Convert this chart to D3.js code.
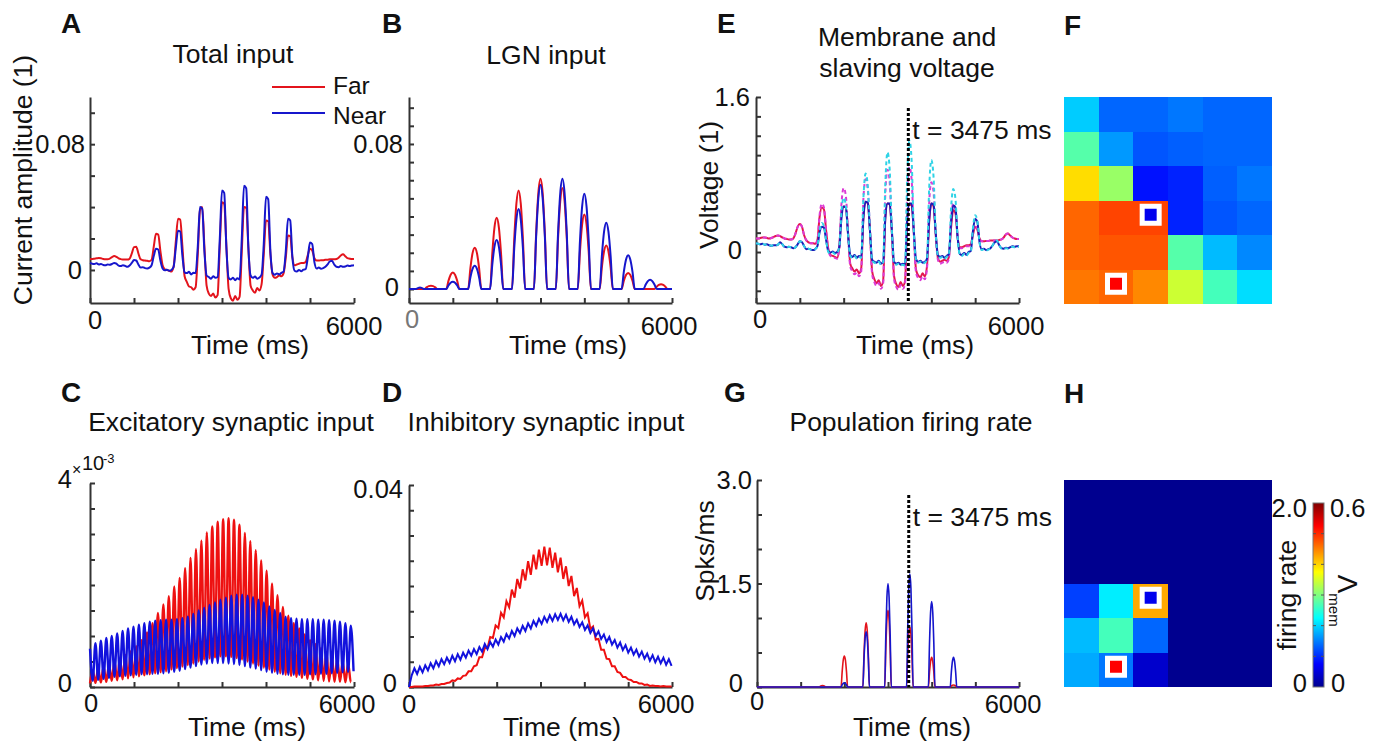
<!DOCTYPE html>
<html>
<head>
<meta charset="utf-8">
<script src="https://cdn.jsdelivr.net/npm/d3@7"></script>
<style>
  body { margin: 0; background: #fff; }
  svg { display: block; font-family: "Liberation Sans", Arial, sans-serif; }
</style>
</head>
<body>
<div id="figure"></div>
<script>
// ---------------- data ----------------
const timeTicks = [0, 1000, 2000, 3000, 4000, 5000, 6000];
// A, B, E are sampled every 50 ms; C, D every half cycle of the ~8 Hz ripple (61.75 ms)
const gridTime = d3.range(0, 6001, 50);
const halfCycleTime = d3.range(0, 98).map(j => j * 61.75);

// A: total input (units of 1e-3)
const totalFar = [
  7.0, 7.0, 7.2, 7.4, 7.6, 7.4, 7.0, 6.8, 6.8, 7.2,
  8.2, 8.9, 8.4, 7.4, 6.9, 6.7, 6.6, 6.6, 7.2, 10.5,
  14.5, 14.8, 10.5, 6.8, 6.2, 6.0, 5.8, 5.6, 6.5, 15.0,
  23.0, 22.5, 12.0, 3.0, 0.5, 0.0, -0.5, -1.0, 2.0, 18.0,
  32.5, 32.0, 15.0, -4.0, -7.5, -10.5, -11.0, -12.5, -11.0, 10.0,
  38.0, 40.0, 15.0, -10.0, -15.0, -16.5, -15.0, -17.5, -16.0, 15.0,
  43.0, 42.0, 15.0, -12.0, -18.0, -19.5, -16.5, -19.0, -17.0, 12.0,
  40.0, 39.5, 14.0, -10.0, -13.0, -14.5, -11.5, -13.0, -9.0, 10.0,
  31.5, 31.0, 10.0, -3.0, -5.0, -4.5, -3.5, -4.0, -2.0, 8.0,
  22.0, 21.5, 8.0, 3.0, 3.5, 4.0, 4.5, 4.5, 5.0, 9.5,
  13.5, 12.5, 7.5, 6.0, 6.0, 6.2, 6.2, 6.5, 6.5, 6.8,
  6.8, 6.8, 7.0, 7.8, 9.2, 10.0, 8.8, 7.5, 7.2, 7.0,
  7.0];
const totalNear = [
  4.5, 4.0, 3.8, 4.2, 3.5, 3.8, 3.2, 3.0, 3.5, 3.3,
  3.8, 4.5, 4.0, 2.8, 2.5, 3.0, 2.6, 2.0, 2.8, 4.5,
  6.3, 6.0, 3.5, 1.5, 1.8, 1.2, 1.0, 1.5, 3.0, 9.0,
  13.5, 13.0, 6.0, 1.0, -0.2, 0.2, -0.5, 0.0, 2.0, 14.0,
  25.0, 24.5, 9.0, -1.5, -2.0, -1.2, -2.8, -1.8, -2.0, 15.0,
  40.0, 39.0, 12.0, -3.5, -4.5, -5.5, -4.0, -5.0, -4.5, 20.0,
  50.5, 49.0, 14.0, -5.0, -6.0, -5.0, -6.5, -5.2, -6.0, 20.0,
  53.5, 52.0, 14.0, -3.5, -5.0, -4.2, -5.5, -4.8, -3.0, 17.0,
  46.5, 45.0, 12.0, -2.0, -3.0, -2.2, -2.8, -1.8, -1.0, 12.0,
  32.5, 31.5, 8.0, -0.5, -1.0, 0.0, -0.8, 0.2, 0.5, 8.0,
  17.5, 16.5, 5.0, 1.0, 1.5, 0.8, 1.2, 2.0, 3.5, 5.5,
  5.8, 3.5, 2.0, 1.8, 2.5, 2.0, 2.2, 2.8, 2.5, 2.8,
  3.0];

// B: LGN input (units of 1e-3)
const lgnFar = [
  0, 0, 0, 0, 0, 0, 0, 0, 0.9, 1.6,
  1.8, 1.6, 0.9, 0, 0, 0, 0, 0, 4.5, 7.9,
  9.1, 7.9, 4.5, 0, 0, 0, 0, 0, 11.4, 19.8,
  22.8, 19.8, 11.4, 0, 0, 0, 0, 0, 19.6, 34.0,
  39.3, 34.0, 19.6, 0, 0, 0, 0, 0, 27.2, 47.1,
  54.4, 47.1, 27.2, 0, 0, 0, 0, 0, 30.4, 52.7,
  60.8, 52.7, 30.4, 0, 0, 0, 0, 0, 27.8, 48.2,
  55.7, 48.2, 27.8, 0, 0, 0, 0, 0, 20.5, 35.6,
  41.1, 35.6, 20.5, 0, 0, 0, 0, 0, 12.0, 20.8,
  24.0, 20.8, 12.0, 0, 0, 0, 0, 0, 4.4, 7.7,
  8.9, 7.7, 4.4, 0, 0, 0, 0, 0, 0, 0,
  0, 0, 0, 1.3, 2.3, 2.7, 2.3, 1.3, 0, 0,
  0];
const lgnNear = [
  0, 0, 0, 0, 0.5, 0.9, 0.5, 0, 0, 0,
  0, 0, 0, 0, 0, 0, 0, 0, 2.0, 3.5,
  4.0, 3.5, 2.0, 0, 0, 0, 0, 0, 6.4, 11.1,
  12.8, 11.1, 6.4, 0, 0, 0, 0, 0, 13.5, 23.4,
  27.0, 23.4, 13.5, 0, 0, 0, 0, 0, 22.1, 38.3,
  44.2, 38.3, 22.1, 0, 0, 0, 0, 0, 28.7, 49.8,
  57.5, 49.8, 28.7, 0, 0, 0, 0, 0, 30.4, 52.7,
  60.8, 52.7, 30.4, 0, 0, 0, 0, 0, 26.3, 45.6,
  52.6, 45.6, 26.3, 0, 0, 0, 0, 0, 18.2, 31.6,
  36.5, 31.6, 18.2, 0, 0, 0, 0, 0, 9.3, 16.1,
  18.6, 16.1, 9.3, 0, 0, 0, 0, 0, 2.5, 4.4,
  5.1, 4.4, 2.5, 0, 0, 0, 0, 0, 0, 0,
  0];

// E: membrane (solid) and slaving (dashed) voltage
const vmemFar = [
  0.14, 0.14, 0.145, 0.15, 0.15, 0.145, 0.14, 0.145, 0.155, 0.165,
  0.17, 0.165, 0.15, 0.14, 0.135, 0.13, 0.13, 0.14, 0.19, 0.26,
  0.29, 0.26, 0.17, 0.12, 0.10, 0.09, 0.09, 0.085, 0.12, 0.36,
  0.46, 0.44, 0.22, 0.03, -0.03, -0.04, -0.05, -0.06, 0.05, 0.40,
  0.47, 0.46, 0.20, -0.12, -0.17, -0.20, -0.18, -0.22, -0.17, 0.35,
  0.52, 0.50, 0.22, -0.20, -0.28, -0.32, -0.29, -0.35, -0.30, 0.35,
  0.50, 0.49, 0.20, -0.25, -0.33, -0.36, -0.31, -0.35, -0.30, 0.30,
  0.49, 0.48, 0.20, -0.18, -0.24, -0.26, -0.22, -0.25, -0.15, 0.30,
  0.50, 0.47, 0.18, -0.06, -0.10, -0.09, -0.08, -0.09, -0.05, 0.25,
  0.43, 0.40, 0.15, 0.05, 0.05, 0.06, 0.07, 0.07, 0.08, 0.18,
  0.26, 0.23, 0.14, 0.11, 0.11, 0.115, 0.115, 0.12, 0.12, 0.12,
  0.12, 0.125, 0.13, 0.15, 0.18, 0.19, 0.17, 0.15, 0.14, 0.135,
  0.135];
const vmemNear = [
  0.09, 0.085, 0.08, 0.085, 0.075, 0.08, 0.07, 0.065, 0.07, 0.07,
  0.075, 0.10, 0.08, 0.055, 0.05, 0.055, 0.05, 0.04, 0.05, 0.08,
  0.11, 0.10, 0.06, 0.03, 0.035, 0.025, 0.02, 0.03, 0.06, 0.20,
  0.26, 0.25, 0.12, 0.01, -0.005, 0.005, -0.01, 0.0, 0.05, 0.35,
  0.47, 0.46, 0.18, -0.03, -0.05, -0.03, -0.06, -0.04, -0.05, 0.35,
  0.52, 0.51, 0.22, -0.08, -0.10, -0.11, -0.09, -0.12, -0.10, 0.35,
  0.50, 0.50, 0.22, -0.10, -0.12, -0.11, -0.13, -0.12, -0.13, 0.35,
  0.50, 0.50, 0.22, -0.07, -0.10, -0.09, -0.11, -0.10, -0.07, 0.33,
  0.50, 0.49, 0.20, -0.03, -0.05, -0.04, -0.06, -0.04, -0.02, 0.30,
  0.48, 0.46, 0.15, -0.02, -0.03, -0.01, -0.03, 0.0, 0.01, 0.22,
  0.34, 0.31, 0.10, 0.03, 0.035, 0.02, 0.03, 0.04, 0.07, 0.10,
  0.11, 0.07, 0.04, 0.035, 0.045, 0.04, 0.05, 0.06, 0.055, 0.06,
  0.06];
const vslaveFar = [
  0.14, 0.14, 0.145, 0.15, 0.15, 0.145, 0.14, 0.145, 0.155, 0.165,
  0.17, 0.165, 0.15, 0.14, 0.135, 0.13, 0.13, 0.14, 0.19, 0.26,
  0.29, 0.26, 0.17, 0.12, 0.10, 0.09, 0.09, 0.085, 0.12, 0.38,
  0.50, 0.46, 0.22, 0.02, -0.04, -0.05, -0.06, -0.07, 0.05, 0.50,
  0.66, 0.58, 0.20, -0.15, -0.20, -0.23, -0.21, -0.25, -0.20, 0.55,
  0.75, 0.65, 0.22, -0.23, -0.31, -0.35, -0.32, -0.38, -0.33, 0.60,
  0.85, 0.72, 0.20, -0.28, -0.36, -0.39, -0.34, -0.38, -0.33, 0.60,
  0.88, 0.75, 0.20, -0.21, -0.27, -0.29, -0.25, -0.28, -0.18, 0.50,
  0.72, 0.62, 0.18, -0.08, -0.12, -0.11, -0.10, -0.11, -0.07, 0.35,
  0.50, 0.44, 0.15, 0.04, 0.04, 0.05, 0.06, 0.06, 0.07, 0.20,
  0.28, 0.24, 0.14, 0.11, 0.11, 0.115, 0.115, 0.12, 0.12, 0.12,
  0.12, 0.125, 0.13, 0.15, 0.18, 0.19, 0.17, 0.15, 0.14, 0.135,
  0.135];
const vslaveNear = [
  0.09, 0.085, 0.08, 0.085, 0.075, 0.08, 0.07, 0.065, 0.07, 0.07,
  0.075, 0.10, 0.08, 0.055, 0.05, 0.055, 0.05, 0.04, 0.05, 0.08,
  0.11, 0.10, 0.06, 0.03, 0.035, 0.025, 0.02, 0.03, 0.06, 0.22,
  0.30, 0.27, 0.12, 0.0, -0.015, -0.005, -0.02, -0.01, 0.05, 0.42,
  0.56, 0.48, 0.18, -0.04, -0.06, -0.04, -0.07, -0.05, -0.06, 0.55,
  0.81, 0.68, 0.22, -0.09, -0.11, -0.12, -0.10, -0.13, -0.11, 0.70,
  1.03, 0.85, 0.22, -0.11, -0.13, -0.12, -0.14, -0.13, -0.14, 0.78,
  1.15, 0.95, 0.22, -0.08, -0.11, -0.10, -0.12, -0.11, -0.08, 0.65,
  0.95, 0.78, 0.20, -0.04, -0.06, -0.05, -0.07, -0.05, -0.03, 0.45,
  0.65, 0.55, 0.15, -0.03, -0.04, -0.02, -0.04, -0.01, 0.0, 0.25,
  0.38, 0.32, 0.10, 0.02, 0.03, 0.015, 0.025, 0.035, 0.07, 0.11,
  0.12, 0.07, 0.035, 0.03, 0.04, 0.035, 0.045, 0.055, 0.05, 0.055,
  0.055];

// C: excitatory synaptic input (units of 1e-3), ripple peaks and troughs per cycle
const excFarTroughs = [0.07, 0.08, 0.09, 0.10, 0.12, 0.13, 0.15, 0.17, 0.19, 0.21,
  0.23, 0.25, 0.27, 0.29, 0.31, 0.34, 0.37, 0.40, 0.43, 0.46, 0.50, 0.53, 0.56, 0.58, 0.60,
  0.60, 0.59, 0.57, 0.54, 0.50, 0.46, 0.42, 0.38, 0.34, 0.30, 0.27, 0.24, 0.22, 0.20, 0.18,
  0.16, 0.15, 0.13, 0.12, 0.11, 0.10, 0.10, 0.09, 0.09];
const excFarPeaks = [0.33, 0.36, 0.40, 0.45, 0.50, 0.56, 0.63, 0.70, 0.80, 0.92,
  1.07, 1.25, 1.45, 1.62, 1.78, 1.97, 2.14, 2.33, 2.53, 2.70, 2.87, 3.03, 3.15, 3.24, 3.29,
  3.31, 3.28, 3.18, 3.02, 2.86, 2.68, 2.48, 2.28, 2.03, 1.80, 1.57, 1.40, 1.25, 1.15, 1.03,
  0.92, 0.84, 0.76, 0.68, 0.61, 0.55, 0.50, 0.46];
const excNearPeaks = [0.75, 0.86, 0.91, 0.96, 1.00, 1.05, 1.10, 1.15, 1.18, 1.22,
  1.25, 1.28, 1.30, 1.31, 1.32, 1.32, 1.33, 1.35, 1.38, 1.43, 1.50, 1.55, 1.61, 1.66, 1.71,
  1.75, 1.79, 1.81, 1.81, 1.79, 1.76, 1.71, 1.66, 1.58, 1.51, 1.45, 1.38, 1.35, 1.34, 1.33,
  1.33, 1.33, 1.32, 1.32, 1.31, 1.30, 1.28, 1.25, 1.20];
const excNearTroughs = [0.12, 0.14, 0.16, 0.18, 0.20, 0.21, 0.22, 0.23, 0.24, 0.25,
  0.25, 0.26, 0.26, 0.27, 0.28, 0.30, 0.32, 0.35, 0.38, 0.41, 0.44, 0.46, 0.47, 0.47, 0.47,
  0.46, 0.45, 0.43, 0.41, 0.38, 0.36, 0.33, 0.30, 0.28, 0.26, 0.25, 0.24, 0.24, 0.24, 0.24,
  0.25, 0.25, 0.26, 0.26, 0.27, 0.28, 0.29, 0.30, 0.31];

// D: inhibitory synaptic input (units of 1e-3)
const inhFar = [
  0, 0.0, 0.1, 0.1, 0.1, 0.1, 0.2, 0.2, 0.3, 0.3,
  0.5, 0.4, 0.6, 0.6, 0.8, 0.9, 1.3, 1.2, 1.7, 1.6,
  2.2, 2.3, 3.1, 3.1, 4.1, 4.3, 5.9, 5.9, 7.7, 7.7,
  9.9, 9.7, 12.2, 11.7, 14.7, 13.8, 17.0, 15.8, 19.3, 17.7,
  21.4, 19.5, 23.3, 21.1, 24.9, 22.2, 26.2, 23.3, 27.2, 24.0,
  27.8, 24.1, 27.6, 23.6, 26.6, 22.7, 25.6, 21.4, 23.9, 20.0,
  22.0, 18.0, 19.6, 16.0, 17.1, 13.8, 14.6, 11.5, 12.0, 9.4,
  9.5, 7.4, 7.4, 5.6, 5.5, 4.1, 4.1, 3.0, 2.8, 2.0,
  2.0, 1.5, 1.4, 1.0, 1.0, 0.7, 0.7, 0.4, 0.5, 0.2,
  0.3, 0.2, 0.2, 0.1, 0.2, 0.1, 0.1, 0.1];
const inhNear = [
  0, 2.3, 3.7, 2.6, 4.0, 2.9, 4.3, 3.3, 4.7, 3.7,
  5.1, 4.1, 5.5, 4.5, 5.8, 4.8, 6.2, 5.1, 6.5, 5.4,
  6.8, 5.8, 7.2, 6.2, 7.5, 6.5, 7.9, 7.0, 8.5, 7.5,
  8.9, 8.0, 9.4, 8.4, 9.9, 9.0, 10.5, 9.6, 11.1, 10.1,
  11.6, 10.7, 12.1, 11.1, 12.6, 11.6, 13.1, 12.1, 13.5, 12.5,
  13.9, 12.9, 14.2, 13.1, 14.4, 13.3, 14.5, 13.2, 14.3, 12.9,
  13.9, 12.4, 13.3, 11.9, 12.8, 11.3, 12.2, 10.7, 11.6, 10.1,
  11.0, 9.5, 10.4, 8.9, 9.9, 8.4, 9.3, 7.8, 8.8, 7.3,
  8.3, 6.8, 7.8, 6.4, 7.4, 6.0, 7.0, 5.6, 6.6, 5.2,
  6.3, 4.9, 6.0, 4.7, 5.8, 4.4, 5.5, 4.2];

// G: population firing rate (spikes/ms)
const rateTime = [0,
  1425, 1450, 1475, 1500, 1525, 1550, 1575,
  1925, 1950, 1975, 2000, 2025, 2050, 2075,
  2425, 2450, 2475, 2500, 2525, 2550, 2575,
  2925, 2950, 2975, 3000, 3025, 3050, 3075,
  3425, 3450, 3475, 3500, 3525, 3550, 3575,
  3925, 3950, 3975, 4000, 4025, 4050, 4075,
  4425, 4450, 4475, 4500, 4525, 4550, 4575,
  6000];
const rateFar = [0,
  0, 0.01, 0.017, 0.02, 0.017, 0.01, 0,
  0, 0.22, 0.39, 0.45, 0.39, 0.22, 0,
  0, 0.46, 0.81, 0.93, 0.81, 0.46, 0,
  0, 0.55, 0.97, 1.11, 0.97, 0.55, 0,
  0, 0.43, 0.76, 0.87, 0.76, 0.43, 0,
  0, 0.21, 0.37, 0.43, 0.37, 0.21, 0,
  0, 0.015, 0.026, 0.03, 0.026, 0.015, 0,
  0];
const rateNear = [0,
  0, 0, 0, 0, 0, 0, 0,
  0, 0.03, 0.052, 0.06, 0.052, 0.03, 0,
  0, 0.4, 0.7, 0.8, 0.7, 0.4, 0,
  0, 0.75, 1.3, 1.5, 1.3, 0.75, 0,
  0, 0.82, 1.43, 1.64, 1.43, 0.82, 0,
  0, 0.62, 1.08, 1.24, 1.08, 0.62, 0,
  0, 0.21, 0.37, 0.43, 0.37, 0.21, 0,
  0];

const snapshotTime = 3475;

// F: membrane voltage map at t = 3475 ms (rows top to bottom)
const vmemMap = [
  [0.195, 0.135, 0.135, 0.145, 0.135, 0.135],
  [0.275, 0.165, 0.125, 0.131, 0.135, 0.135],
  [0.395, 0.315, 0.085, 0.095, 0.131, 0.145],
  [0.465, 0.485, 0.485, 0.095, 0.125, 0.135],
  [0.465, 0.475, 0.475, 0.275, 0.185, 0.155],
  [0.455, 0.465, 0.445, 0.345, 0.265, 0.205]];
// H: firing-rate map at t = 3475 ms
const rateMap = [
  [0, 0, 0, 0, 0, 0],
  [0, 0, 0, 0, 0, 0],
  [0, 0, 0, 0, 0, 0],
  [0.376, 0.717, 1.417, 0, 0, 0],
  [0.617, 0.883, 0.45, 0, 0, 0],
  [0.583, 0.483, 0.136, 0, 0, 0]];
const vmemMax = 0.6, rateMax = 2.0;
const nearCell = { r: 3, c: 2 }, farCell = { r: 5, c: 1 };

// ---------------- drawing ----------------
const RED = "#e3141c", BLUE = "#1616cc";
const FS = 26.5, TICK = 25.5, LETTER = 28;
const svg = d3.select("#figure").append("svg").attr("width", 1374).attr("height", 742);
svg.append("rect").attr("width", 1374).attr("height", 742).attr("fill", "#fff");

function label(x, y, s, o = {}) {
  const t = svg.append("text").attr("x", x).attr("y", y).text(s)
    .attr("font-size", o.size || FS)
    .attr("text-anchor", o.anchor || "start")
    .attr("fill", o.color || "#111");
  if (o.bold) t.attr("font-weight", "bold");
  if (o.rotate) t.attr("transform", `rotate(${o.rotate},${x},${y})`);
  if (o.mid) t.attr("dominant-baseline", "central");
  return t;
}

function linePanel(p) {
  const x = d3.scaleLinear().domain([0, 6000]).range([p.left, p.right]);
  const y = d3.scaleLinear().domain(p.yDomain).range([p.bottom, p.top]);
  const g = svg.append("g");
  const ax = g.append("g").attr("transform", `translate(0,${p.bottom})`)
    .call(d3.axisBottom(x).tickValues(timeTicks).tickSize(-5).tickSizeOuter(0).tickFormat(""));
  const ay = g.append("g").attr("transform", `translate(${p.left},0)`)
    .call(d3.axisLeft(y).tickValues(p.yTicks).tickSize(-5).tickSizeOuter(0).tickFormat(""));
  [ax, ay].forEach(a => a.selectAll("path, line").attr("stroke", "#333").attr("stroke-width", 2));

  p.series.forEach(s => {
    const line = d3.line()
      .x((d, i) => x(s.time[i]))
      .y(d => y(d))
      .curve(s.curve || d3.curveMonotoneX);
    g.append("path").datum(s.values)
      .attr("d", line)
      .attr("fill", "none")
      .attr("stroke", s.color)
      .attr("stroke-width", s.width || 2)
      .attr("stroke-dasharray", s.dash || null);
  });
  return { x, y };
}

function snapshotLine(sc, yTop) {
  svg.append("line")
    .attr("x1", sc.x(snapshotTime)).attr("x2", sc.x(snapshotTime))
    .attr("y1", yTop).attr("y2", sc.y.range()[0])
    .attr("stroke", "#000").attr("stroke-width", 3).attr("stroke-dasharray", "3,2");
  label(sc.x(snapshotTime) + 4, yTop + 31, "t = 3475 ms");
}

// ---- A: total input ----
const A = linePanel({
  left: 90, right: 354, top: 97, bottom: 303, yDomain: [-21, 110],
  yTicks: [0, 20, 40, 60, 80, 100],
  series: [
    { time: gridTime, values: totalFar, color: RED },
    { time: gridTime, values: totalNear, color: BLUE }]
});
label(61, 33, "A", { bold: true, size: LETTER });
label(233, 63, "Total input", { anchor: "middle" });
label(32, 180, "Current amplitude (1)", { anchor: "middle", rotate: -90 });
label(85, A.y(80), "0.08", { anchor: "end", mid: true, size: TICK });
label(82, A.y(0), "0", { anchor: "end", mid: true, size: TICK });
label(A.x(0) + 5, 329, "0", { anchor: "middle", size: TICK });
label(A.x(6000), 335, "6000", { anchor: "middle", size: TICK });
label(250, 354, "Time (ms)", { anchor: "middle" });
// legend
[["Far", RED, 87, 85], ["Near", BLUE, 113, 115]].forEach(([name, col, ly, ty]) => {
  svg.append("line").attr("x1", 272).attr("x2", 325).attr("y1", ly).attr("y2", ly)
    .attr("stroke", col).attr("stroke-width", 2);
  label(333, ty, name, { mid: true, size: 24.5 });
});

// ---- B: LGN input ----
const B = linePanel({
  left: 409, right: 672, top: 97, bottom: 303, yDomain: [-7.7, 105.9],
  yTicks: d3.range(0, 101, 10),
  series: [
    { time: gridTime, values: lgnFar, color: RED },
    { time: gridTime, values: lgnNear, color: BLUE }]
});
label(382, 33, "B", { bold: true, size: LETTER });
label(546, 64, "LGN input", { anchor: "middle" });
label(403, B.y(80), "0.08", { anchor: "end", mid: true, size: TICK });
label(399, B.y(0) - 2, "0", { anchor: "end", mid: true, size: TICK });
label(B.x(0) + 3, 328, "0", { anchor: "middle", size: TICK, color: "#777" });
label(B.x(6000) - 3, 335, "6000", { anchor: "middle", size: TICK });
label(568, 354, "Time (ms)", { anchor: "middle" });

// ---- E: membrane and slaving voltage ----
const E = linePanel({
  left: 756, right: 1019, top: 97, bottom: 303, yDomain: [-0.526, 1.6],
  yTicks: [-0.4, -0.2, 0, 0.2, 0.4, 0.6, 0.8, 1.0, 1.2, 1.4, 1.6],
  series: [
    { time: gridTime, values: vmemFar, color: "#e3174e" },
    { time: gridTime, values: vslaveFar, color: "#dc3ad6", dash: "4,3" },
    { time: gridTime, values: vmemNear, color: "#1c1cb8" },
    { time: gridTime, values: vslaveNear, color: "#2fd3e6", dash: "4,3" }]
});
label(717, 33, "E", { bold: true, size: LETTER });
label(907, 46, "Membrane and", { anchor: "middle" });
label(907, 77, "slaving voltage", { anchor: "middle" });
label(718, 185, "Voltage (1)", { anchor: "middle", rotate: -90 });
label(750, E.y(1.6), "1.6", { anchor: "end", mid: true, size: TICK });
label(742, E.y(0) - 2, "0", { anchor: "end", mid: true, size: TICK });
label(E.x(0) + 4, 328, "0", { anchor: "middle", size: TICK });
label(E.x(6000) - 3, 335, "6000", { anchor: "middle", size: TICK });
label(915, 354, "Time (ms)", { anchor: "middle" });
snapshotLine(E, 108);

// ---- C: excitatory synaptic input ----
const excFar = halfCycleTime.map((t, j) => j % 2 === 0 ? excFarTroughs[j / 2] : excFarPeaks[(j - 1) / 2]);
const excNear = halfCycleTime.map((t, j) => j % 2 === 0 ? excNearPeaks[j / 2] : excNearTroughs[(j - 1) / 2]);
const C = linePanel({
  left: 90, right: 354, top: 483, bottom: 687, yDomain: [0, 4],
  yTicks: d3.range(0, 4.01, 0.5),
  series: [
    { time: halfCycleTime, values: excFar, color: "#ee1111", width: 2.4 },
    { time: halfCycleTime, values: excNear, color: "#1212dd", width: 2.4 }]
});
label(61, 402, "C", { bold: true, size: LETTER });
label(231, 431, "Excitatory synaptic input", { anchor: "middle" });
label(72, 488, "4", { anchor: "end", size: TICK });
label(72, 475, "\u00d7", { size: 16 });
label(82, 470, "10", { size: 20 });
label(103, 463, "-3", { size: 13 });
label(72, C.y(0) - 4, "0", { anchor: "end", mid: true, size: TICK });
label(C.x(0) + 1, 712, "0", { anchor: "middle", size: TICK });
label(C.x(6000) - 7, 713, "6000", { anchor: "middle", size: TICK });
label(247, 736, "Time (ms)", { anchor: "middle" });

// ---- D: inhibitory synaptic input ----
const D = linePanel({
  left: 409, right: 672, top: 485, bottom: 687, yDomain: [0, 40],
  yTicks: d3.range(0, 41, 5),
  series: [
    { time: halfCycleTime, values: inhFar, color: "#ee1111", curve: d3.curveLinear },
    { time: halfCycleTime, values: inhNear, color: "#1212dd", curve: d3.curveLinear }]
});
label(382, 402, "D", { bold: true, size: LETTER });
label(546, 431, "Inhibitory synaptic input", { anchor: "middle" });
label(403, D.y(40) + 4, "0.04", { anchor: "end", mid: true, size: TICK });
label(397, D.y(0) - 4, "0", { anchor: "end", mid: true, size: TICK });
label(D.x(0), 713, "0", { anchor: "middle", size: TICK });
label(D.x(6000) - 6, 713, "6000", { anchor: "middle", size: TICK });
label(562, 736, "Time (ms)", { anchor: "middle" });

// ---- G: population firing rate ----
const G = linePanel({
  left: 757, right: 1019, top: 480, bottom: 687, yDomain: [0, 3],
  yTicks: [0, 0.5, 1, 1.5, 2, 2.5, 3],
  series: [
    { time: rateTime, values: rateFar, color: "#e3141c", width: 1.6 },
    { time: rateTime, values: rateNear, color: "#1616cc", width: 1.6 }]
});
label(724, 402, "G", { bold: true, size: LETTER });
label(911, 431, "Population firing rate", { anchor: "middle" });
label(714, 551, "Spks/ms", { anchor: "middle", rotate: -90 });
label(752, G.y(3), "3.0", { anchor: "end", mid: true, size: TICK });
label(752, G.y(1.5), "1.5", { anchor: "end", mid: true, size: TICK });
label(743, G.y(0) - 4, "0", { anchor: "end", mid: true, size: TICK });
label(G.x(0), 710, "0", { anchor: "middle", size: TICK });
label(G.x(6000) - 6, 713, "6000", { anchor: "middle", size: TICK });
label(912, 736, "Time (ms)", { anchor: "middle" });
snapshotLine(G, 495);

// ---- F and H: maps at t = 3475 ms ----
const jet = d3.scaleLinear()
  .domain([0, 0.125, 0.375, 0.625, 0.875, 1])
  .range(["#00008f", "#0000ff", "#00ffff", "#ffff00", "#ff0000", "#800000"])
  .clamp(true);

function heatPanel(values, top, maxVal) {
  const x = d3.scaleBand().domain(d3.range(6)).range([1064, 1272]);
  const y = d3.scaleBand().domain(d3.range(6)).range([top, top + 207]);
  const cells = values.flatMap((row, r) => row.map((v, c) => ({ r, c, v })));
  const g = svg.append("g");
  g.selectAll("rect").data(cells).join("rect")
    .attr("x", d => x(d.c)).attr("y", d => y(d.r))
    .attr("width", d => x.bandwidth() + (d.c < 5 ? 1 : 0))
    .attr("height", d => y.bandwidth() + (d.r < 5 ? 1 : 0))
    .attr("shape-rendering", "crispEdges")
    .attr("fill", d => jet(d.v / maxVal));
  [[nearCell, "#0000ee"], [farCell, "#ff0000"]].forEach(([cell, col]) => {
    const cx = x(cell.c) + x.bandwidth() / 2, cy = y(cell.r) + y.bandwidth() / 2 - 3;
    g.append("rect").attr("x", cx - 11).attr("y", cy - 11).attr("width", 22).attr("height", 22).attr("fill", "#fff");
    g.append("rect").attr("x", cx - 6).attr("y", cy - 6).attr("width", 12).attr("height", 12).attr("fill", col);
  });
}
heatPanel(vmemMap, 97, vmemMax);
label(1064, 35, "F", { bold: true, size: LETTER });
heatPanel(rateMap, 480, rateMax);
label(1064, 403, "H", { bold: true, size: LETTER });

// colorbar
const defs = svg.append("defs");
const grad = defs.append("linearGradient").attr("id", "jetGrad")
  .attr("x1", 0).attr("y1", 1).attr("x2", 0).attr("y2", 0);
d3.range(0, 1.001, 0.125).forEach(f => grad.append("stop").attr("offset", f).attr("stop-color", jet(f)));
const cb = d3.scaleLinear().domain([0, vmemMax]).range([687, 503]);
svg.append("rect").attr("x", 1313).attr("y", cb(vmemMax)).attr("width", 11).attr("height", cb(0) - cb(vmemMax))
  .attr("fill", "url(#jetGrad)").attr("stroke", "#777").attr("stroke-width", 1);
d3.range(0.1, 0.55, 0.1).forEach(v => {
  svg.append("line").attr("x1", 1321).attr("x2", 1324).attr("y1", cb(v)).attr("y2", cb(v)).attr("stroke", "#555");
  svg.append("line").attr("x1", 1313).attr("x2", 1316).attr("y1", cb(v)).attr("y2", cb(v)).attr("stroke", "#555");
});
label(1307, cb(vmemMax) + 5, "2.0", { anchor: "end", mid: true, size: TICK });
label(1307, cb(0) - 4, "0", { anchor: "end", mid: true, size: TICK });
label(1330, cb(vmemMax) + 5, "0.6", { mid: true, size: TICK });
label(1331, cb(0) - 4, "0", { mid: true, size: TICK });
label(1296, 595, "firing rate", { anchor: "middle", rotate: -90 });
label(1357, 584, "V", { anchor: "middle", rotate: -90, size: 28 });
label(1329, 610, "mem", { anchor: "middle", rotate: 90, size: 15 });
</script>
</body>
</html>
